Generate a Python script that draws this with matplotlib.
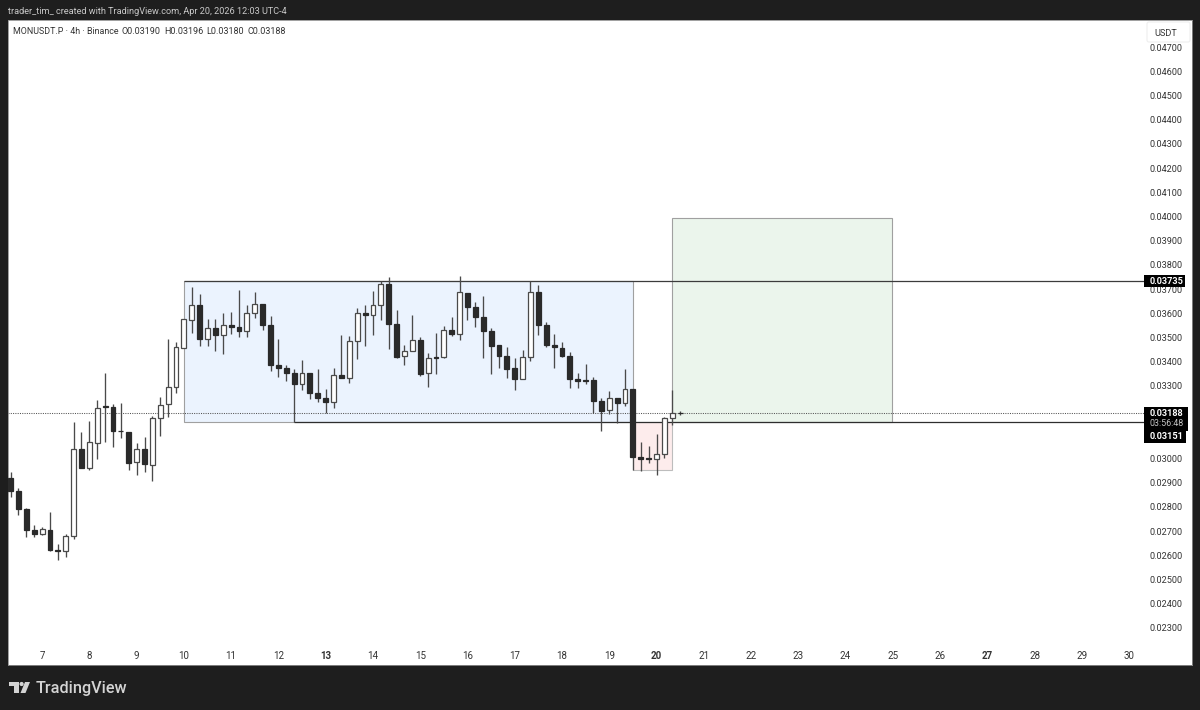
#!/usr/bin/env python3
"""MONUSDT.P 4h candles, TradingView snapshot style."""
import matplotlib; matplotlib.use("Agg")
import matplotlib.pyplot as plt
import numpy as np
from matplotlib.patches import Rectangle, Polygon, Circle, FancyBboxPatch
from matplotlib.transforms import IdentityTransform

# prices in 1e-5 USDT
opens = [2919,2864,2791,2704,2688,2704,2622,2619,2678,3040,
         2959,3064,3215,3214,3115,3111,2985,3040,2973,3168,
         3224,3294,3458,3573,3633,3492,3538,3510,3553,3543,
         3528,3601,3640,3553,3387,3374,3354,3306,3352,3269,
         3248,3235,3345,3332,3485,3600,3593,3635,3721,3555,
         3422,3445,3489,3352,3419,3418,3531,3513,3685,3626,
         3583,3528,3467,3422,3372,3327,3420,3688,3553,3470,
         3458,3423,3327,3324,3324,3239,3199,3248,3228,3288,
         3006,3002,2996,3018,3167,3190]
closes = [2864,2790,2706,2689,2707,2622,2616,2681,3040,2962,
          3068,3208,3211,3113,3112,2982,3040,2976,3168,3221,
          3297,3459,3575,3633,3492,3538,3510,3553,3543,3525,
          3601,3638,3553,3387,3372,3354,3306,3352,3272,3248,
          3235,3345,3332,3485,3600,3593,3635,3721,3555,3418,
          3443,3489,3348,3415,3415,3531,3513,3688,3626,3583,
          3525,3463,3422,3370,3330,3419,3688,3550,3470,3459,
          3423,3327,3321,3321,3239,3195,3248,3229,3287,3006,
          2996,2999,3018,3166,3189,3188]
highs = [2945,2878,2795,2726,2717,2779,2646,2689,3151,3108,
         3157,3241,3353,3224,3229,3111,3065,3089,3174,3255,
         3492,3480,3575,3708,3681,3576,3575,3602,3605,3697,
         3635,3690,3640,3587,3495,3386,3370,3408,3354,3371,
         3288,3374,3510,3506,3622,3633,3693,3735,3752,3613,
         3467,3593,3500,3436,3517,3546,3584,3755,3685,3646,
         3670,3538,3470,3462,3415,3448,3735,3717,3562,3514,
         3482,3441,3353,3392,3336,3251,3280,3251,3370,3288,
         3068,3053,3101,3170,3281,3196]
lows = [2841,2768,2674,2677,2682,2619,2579,2594,2668,2959,
        2951,2996,3067,3046,3086,2954,2933,2945,2905,3095,
        3171,3272,3456,3518,3466,3466,3443,3433,3513,3502,
        3502,3582,3532,3363,3338,3320,3151,3283,3246,3235,
        3188,3210,3331,3314,3411,3466,3509,3571,3454,3414,
        3386,3445,3339,3295,3350,3415,3505,3491,3573,3542,
        3415,3348,3372,3331,3283,3327,3401,3510,3459,3376,
        3418,3290,3292,3306,3188,3112,3182,3146,3218,2954,
        2948,2980,2930,3002,3138,3180]

day_labels = [7,8,9,10,11,12,13,14,15,16,17,18,19,20,21,22,23,24,25,26,27,28,29,30]
bold_days = [13, 20, 27]
price_ticks = [0.023 + 0.001 * k for k in range(25)]

resistance = 0.03735
support = 0.03151
last_price = 0.03188
target = 0.03992
sweep_low = 0.02954

W, H = 1200, 710
DARK = "#1e1e1e"
INK = "#2a2a2a"
FONT = ["Roboto", "DejaVu Sans"]
plt.rcParams["font.family"] = FONT

fig = plt.figure(figsize=(W / 100, H / 100), dpi=100, facecolor=DARK)
# white panel spans px 8..1192 / 20..665
ax = fig.add_axes([8 / W, 1 - 665 / H, (1192 - 8) / W, (665 - 20) / H], facecolor="white")
BAR0, BAR_W = 10.6, 7.877  # px of first bar, px per bar
ax.set_xlim((8 - BAR0) / BAR_W, (1192 - BAR0) / BAR_W)
ax.set_ylim(0.03 - (665 - 458.5) / 24200, 0.03 + (458.5 - 20) / 24200)
for s in ax.spines.values():
    s.set_color("#8f8f8f"); s.set_linewidth(0.6)

o, c, h, l = [np.array(a) / 1e5 for a in (opens, closes, highs, lows)]
x = np.arange(len(o))
up = c >= o

# zones
ax.add_patch(Rectangle((22, support), 57, resistance - support, fc="#ebf3fe", ec="#a0a0a0", lw=0.8, zorder=1))
ax.add_patch(Rectangle((79, sweep_low), 5, support - sweep_low, fc="#fdecec", ec="#bdbdbd", lw=0.8, zorder=1))
ax.add_patch(Rectangle((84, support), 27.9, target - support, fc="#ebf5ec", ec="#a0a0a0", lw=0.8, zorder=1))

end_x = (1144 - BAR0) / BAR_W
ax.hlines(resistance, 22, end_x, color="#3c3c3c", lw=0.9, zorder=2)
ax.hlines(support, 36, end_x, color="#2e2e2e", lw=0.9, zorder=2)
ax.hlines(last_price, ax.get_xlim()[0], end_x, color="#555555", lw=0.75, ls=(0, (1, 1.2)), zorder=2)

# candles
ax.vlines(x, l, h, color="#4a4a4a", lw=0.95, zorder=3)
body_lo = np.minimum(o, c)
body_hi = np.maximum(o, c)
ax.bar(x[up], (body_hi - body_lo)[up], bottom=body_lo[up], width=0.62,
       color="white", edgecolor="#4a4a4a", linewidth=0.9, zorder=4)
ax.bar(x[~up], (body_hi - body_lo)[~up], bottom=body_lo[~up], width=0.62,
       color=INK, edgecolor=INK, linewidth=0.9, zorder=4)

# axis labels sit inside the panel
ax.set_yticks(price_ticks)
ax.set_yticklabels([f"{p:.5f}" for p in price_ticks])
ax.yaxis.tick_right()
ax.tick_params(axis="y", length=0, pad=-30.5, labelsize=6.6, labelcolor="#333333")
ax.set_xticks([4 + 6 * k for k in range(len(day_labels))])
ax.set_xticklabels(day_labels)
ax.tick_params(axis="x", length=0, pad=-10.4, labelsize=7, labelcolor="#333333")
for lab, d in zip(ax.get_xticklabels(), day_labels):
    if d in bold_days:
        lab.set_fontweight("bold")


def fy(y):
    return H - y


def box(x0, y0, x1, y1, color="black"):
    fig.add_artist(Rectangle((x0, fy(y1)), x1 - x0, y1 - y0, fc=color, ec="none",
                             transform=IdentityTransform(), zorder=5))


def label(px, py, s, **kw):
    fig.text(px / W, 1 - py / H, s, va="center", zorder=6, **kw)


# price labels
box(1144, 275, 1185, 287)
label(1150, 281.5, "0.03735", color="white", fontsize=6.6, fontweight="bold")
box(1144, 407, 1188, 431)
box(1144, 431, 1186, 443)
label(1150, 413.5, "0.03188", color="white", fontsize=6.6, fontweight="bold")
label(1150, 424, "03:56:48", color="#c4c4c4", fontsize=6.4)
label(1150, 436.5, "0.03151", color="white", fontsize=6.6, fontweight="bold")

# USDT button
fig.add_artist(FancyBboxPatch((1149, fy(40)), 39, 16, boxstyle="round,pad=2",
                              fc="white", ec="#eeeeee", lw=0.8,
                              transform=IdentityTransform(), zorder=5))
label(1154, 33, "USDT", color="#333333", fontsize=6.6)

# header texts
label(8, 11, "trader_tim_ created with TradingView.com, Apr 20, 2026 12:03 UTC-4",
      color="#c9c9c9", fontsize=6.55)
label(13, 31, "MONUSDT.P · 4h · Binance", color="#333333", fontsize=6.4)
for px, s in [(122, "O0.03190"), (164, "H0.03196"), (206, "L0.03180"), (247, "C0.03188")]:
    label(px, 31, s, color="#333333", fontsize=6.5)

# TradingView logo
LOGO = "#d4d4d4"
for pts in ([(9, 682), (19, 682), (19, 693), (14, 693), (14, 686), (9, 686)],
            [(25, 682), (30, 682), (25.5, 693), (20.5, 693)]):
    fig.add_artist(Polygon([(a, fy(b)) for a, b in pts], closed=True, fc=LOGO, ec="none",
                           transform=IdentityTransform(), zorder=5))
fig.add_artist(Circle((21.6, fy(684)), 2.1, fc=LOGO, ec="none",
                      transform=IdentityTransform(), zorder=5))
label(36, 688, "TradingView", color=LOGO, fontsize=11.7, fontweight="medium")

fig.savefig("out.png", dpi=100, facecolor=DARK)
